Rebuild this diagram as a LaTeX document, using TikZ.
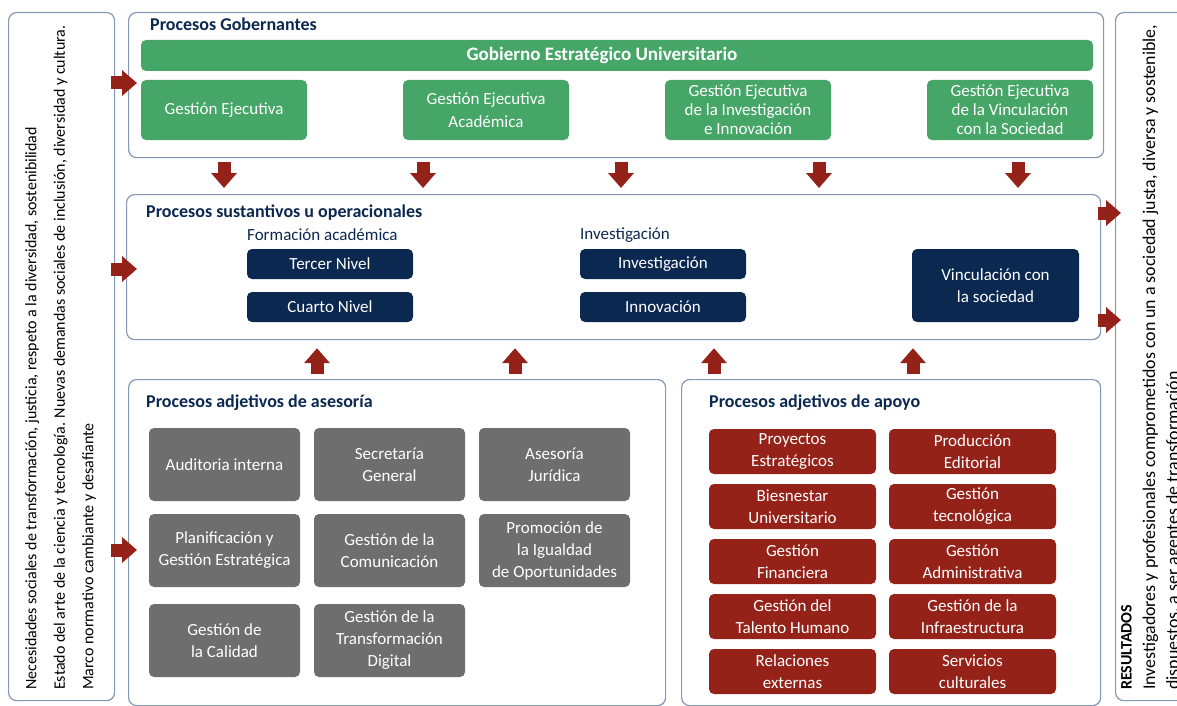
\documentclass[tikz,border=0pt]{standalone}
\usepackage{fontspec}
\setmainfont{Carlito}
\usetikzlibrary{calc,arrows.meta}
\definecolor{navy}{HTML}{0B2850}
\definecolor{ggreen}{HTML}{46A668}
\definecolor{dred}{HTML}{952219}
\definecolor{dgray}{HTML}{6E6E6E}
\definecolor{bord}{HTML}{8597B2}
\begin{document}
\begin{tikzpicture}[x=1pt,y=-1pt,
  cont/.style={draw=bord, line width=1.2pt, rounded corners=8pt, inner sep=0pt, anchor=north west},
  ttl/.style={anchor=west, inner sep=0pt, text=navy, font=\fontsize{18}{20}\bfseries\selectfont},
  sub/.style={anchor=west, inner sep=0pt, text=navy, font=\fontsize{17}{20}\selectfont},
  boxbase/.style={rounded corners=5pt, text=white, align=center, inner sep=0pt, font=\fontsize{17}{22}\selectfont},
  gbox/.style={boxbase, fill=ggreen, minimum width=166pt, minimum height=60pt},
  nbox/.style={boxbase, fill=navy, minimum width=166pt, minimum height=30pt},
  grbox/.style={boxbase, fill=dgray, minimum width=151pt, minimum height=73pt},
  rbox/.style={boxbase, fill=dred, minimum width=167pt, minimum height=45pt},
  barrow/.style={draw=dred, line width=13pt, -{Triangle[width=25pt,length=15pt]}}
]
\useasboundingbox (0,0) rectangle (1177,706);

% containers
\node[cont, minimum width=106pt, minimum height=688pt] (lbox) at (8,12) {};
\node[cont, minimum width=975pt, minimum height=145pt] (gob) at (128,12) {};
\node[cont, minimum width=974pt, minimum height=145pt] (sus) at (126,194) {};
\node[cont, minimum width=537pt, minimum height=326pt] (ase) at (128,379) {};
\node[cont, minimum width=419pt, minimum height=326pt] (apo) at (681,379) {};
\node[cont, minimum width=120pt, minimum height=688pt] (rbx) at (1115,12) {};

% side texts
\node[rotate=90, anchor=north west, align=left, inner sep=0pt,
      font=\fontsize{16}{28.5}\selectfont] (ltxt) at (25,690)
  {Necesidades sociales de transformación, justicia, respeto a la diversidad, sostenibilidad\\
   Estado del arte de la ciencia y tecnología. Nuevas demandas sociales de inclusión, diversidad y cultura.\\
   Marco normativo cambiante y desafiante};
\node[rotate=90, anchor=north west, align=left, inner sep=0pt,
      font=\fontsize{17.9}{23.5}\selectfont] (rtxt) at (1121,690)
  {{\fontsize{16}{23.5}\selectfont\textbf{RESULTADOS}}\\
   Investigadores y profesionales comprometidos con un a sociedad justa, diversa y sostenible,\\
   dispuestos, a ser agentes de transformación};

% Gobernantes
\node[ttl] (tgob) at (150,24) {Procesos Gobernantes};
\node[boxbase, fill=ggreen, minimum width=952pt, minimum height=31pt, font=\fontsize{19}{20}\bfseries\selectfont] (geu) at (617,55.5) {\kern-30pt Gobierno Estratégico Universitario};
\node[gbox] (ge1) at (224,110) {Gestión Ejecutiva};
\node[gbox, font=\fontsize{17}{22.5}\selectfont] (ge2) at (486,110) {Gestión Ejecutiva\\Académica};
\node[gbox, font=\fontsize{17}{19}\selectfont] (ge3) at (748,110) {Gestión Ejecutiva\\de la Investigación\\e Innovación};
\node[gbox, font=\fontsize{17}{19}\selectfont] (ge4) at (1010,110) {Gestión Ejecutiva\\de la Vinculación\\con la Sociedad};

% Sustantivos
\node[ttl] (tsus) at (146,213) {Procesos sustantivos u operacionales};
\node[sub] (tfor) at (247,235) {Formación académica};
\node[sub] (tinv) at (580,235) {Investigación};
\node[nbox] (n1) at (330,264) {Tercer Nivel};
\node[nbox] (n2) at (330,307) {Cuarto Nivel};
\node[nbox] (n3) at (663,264) {Investigación};
\node[nbox] (n4) at (663,307) {Innovación};
\node[nbox, minimum width=167pt, minimum height=73pt] (n5) at (995.5,285.5) {Vinculación con\\la sociedad};

% Asesoria
\node[ttl] (tase) at (146,403) {Procesos adjetivos de asesoría};
\node[grbox] (a1) at (224.5,464.5) {Auditoria interna};
\node[grbox] (a2) at (389.5,464.5) {Secretaría\\General};
\node[grbox] (a3) at (554.5,464.5) {Asesoría\\Jurídica};
\node[grbox] (a4) at (224.5,550.5) {Planificación y\\Gestión Estratégica};
\node[grbox] (a5) at (389.5,550.5) {Gestión de la\\Comunicación};
\node[grbox] (a6) at (554.5,550.5) {Promoción de\\la Igualdad\\de Oportunidades};
\node[grbox] (a7) at (224.5,640.5) {Gestión de\\la Calidad};
\node[grbox] (a8) at (389.5,640.5) {Gestión de la\\Transformación\\Digital};

% Apoyo
\node[ttl] (tapo) at (709,403) {Procesos adjetivos de apoyo};
\node[rbox] (p1) at (792.5,451.5) {Proyectos\\Estratégicos};
\node[rbox] (p2) at (972.5,451.5) {Producción\\Editorial};
\node[rbox] (p3) at (792.5,506.5) {Biesnestar\\Universitario};
\node[rbox] (p4) at (972.5,506.5) {Gestión\\tecnológica};
\node[rbox] (p5) at (792.5,561.5) {Gestión\\Financiera};
\node[rbox] (p6) at (972.5,561.5) {Gestión\\Administrativa};
\node[rbox] (p7) at (792.5,616.5) {Gestión del\\Talento Humano};
\node[rbox] (p8) at (972.5,616.5) {Gestión de la\\Infraestructura};
\node[rbox] (p9) at (792.5,671.5) {Relaciones\\externas};
\node[rbox] (p10) at (972.5,671.5) {Servicios\\culturales};

% arrow column / row positions
\coordinate (d1) at (224,0);
\coordinate (d2) at (423,0);
\coordinate (d3) at (621,0);
\coordinate (d4) at (819,0);
\coordinate (d5) at (1018,0);
\coordinate (u1) at (317,0);
\coordinate (u2) at (515,0);
\coordinate (u3) at (714,0);
\coordinate (u4) at (913,0);
\coordinate (l1) at (0,83);
\coordinate (l2) at (0,269);
\coordinate (l3) at (0,550);
\coordinate (r1) at (0,213);
\coordinate (r2) at (0,320);

% down arrows
\foreach \c in {d1,d2,d3,d4,d5}
  \draw[barrow] ($(\c |- gob.south)+(0,4)$) -- ($(\c |- sus.north)+(0,-6)$);
% up arrows
\draw[barrow] ($(u1 |- ase.north)+(0,-5)$) -- ($(u1 |- sus.south)+(0,8)$);
\draw[barrow] ($(u2 |- ase.north)+(0,-5)$) -- ($(u2 |- sus.south)+(0,8)$);
\draw[barrow] ($(u3 |- apo.north)+(0,-5)$) -- ($(u3 |- sus.south)+(0,8)$);
\draw[barrow] ($(u4 |- apo.north)+(0,-5)$) -- ($(u4 |- sus.south)+(0,8)$);
% left arrows
\draw[barrow] ($(lbox.east |- l1)+(-4,0)$) -- ($(gob.west |- l1)+(9,0)$);
\draw[barrow] ($(lbox.east |- l2)+(-4,0)$) -- ($(sus.west |- l2)+(11,0)$);
\draw[barrow] ($(lbox.east |- l3)+(-4,0)$) -- ($(ase.west |- l3)+(9,0)$);
% right arrows
\draw[barrow] ($(sus.east |- r1)+(-3,0)$) -- ($(rbx.west |- r1)+(6,0)$);
\draw[barrow] ($(sus.east |- r2)+(-3,0)$) -- ($(rbx.west |- r2)+(6,0)$);
\end{tikzpicture}
\end{document}
